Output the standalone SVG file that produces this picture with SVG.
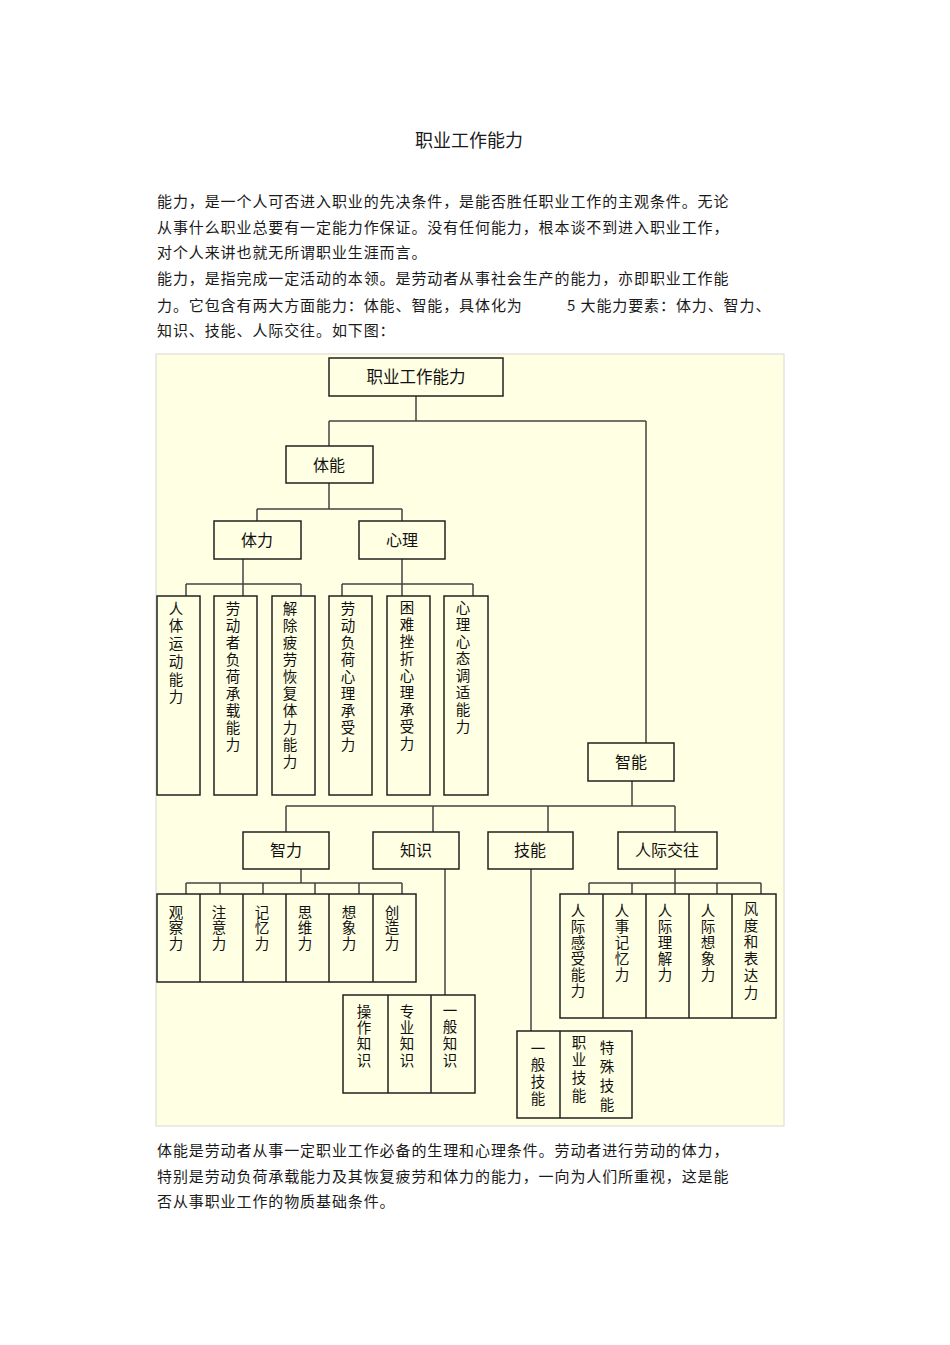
<svg xmlns="http://www.w3.org/2000/svg" width="950" height="1345" viewBox="0 0 950 1345">
<style>
.p{font-family:"Noto Sans CJK SC","Liberation Sans",sans-serif;font-size:15px;fill:#1a1a1a;letter-spacing:0.9px}
.t{font-family:"Noto Sans CJK SC",sans-serif;font-size:18px;fill:#1a1a1a;text-anchor:middle}
.b{fill:none;stroke:#222;stroke-width:1.5}
.l{font-family:"Noto Sans CJK SC",sans-serif;font-size:16px;fill:#111;text-anchor:middle}
.v{font-family:"Noto Sans CJK SC",sans-serif;font-size:14.5px;fill:#111;writing-mode:vertical-rl}
.c{fill:none;stroke:#444;stroke-width:1.5}
</style>
<rect width="950" height="1345" fill="#ffffff"/>
<text class="t" x="469" y="147">职业工作能力</text>
<g id="intro">
<text class="p" x="157" y="207">能力，是一个人可否进入职业的先决条件，是能否胜任职业工作的主观条件。无论</text>
<text class="p" x="157" y="233">从事什么职业总要有一定能力作保证。没有任何能力，根本谈不到进入职业工作，</text>
<text class="p" x="157" y="258">对个人来讲也就无所谓职业生涯而言。</text>
<text class="p" x="157" y="284">能力，是指完成一定活动的本领。是劳动者从事社会生产的能力，亦即职业工作能</text>
<text class="p" x="157" y="311">力。它包含有两大方面能力：体能、智能，具体化为</text>
<text class="p" x="567" y="311">5 大能力要素：体力、智力、</text>
<text class="p" x="157" y="336">知识、技能、人际交往。如下图：</text>
</g>
<rect x="156" y="354" width="628" height="772" fill="#ffffe3" stroke="#d8d8d0" stroke-width="1"/>
<g id="connectors">
<path class="c" d="M416,396V421M329,421H646M329,421V446M646,421V743"/>
<path class="c" d="M329,483V509M257,509H402M257,509V521M402,509V521"/>
<path class="c" d="M243,559V596M186,584H301M186,584V596M301,584V596"/>
<path class="c" d="M402,559V596M342,584H473M342,584V596M473,584V596"/>
<path class="c" d="M632,781V806M286,806H675M286,806V832M433,806V832M548,806V832M675,806V832"/>
<path class="c" d="M301,869V883M186,883H402M186,883V894M220,883V894M263,883V894M315,883V894M359,883V894M402,883V894"/>
<path class="c" d="M445,869V995"/>
<path class="c" d="M531,869V1031"/>
<path class="c" d="M675,869V883M589,883H761M589,883V894M632,883V894M675,883V894M717,883V894M761,883V894"/>
</g>
<g id="n-top"><rect class="b" x="329" y="358" width="174" height="38"/><text class="l" x="416" y="383" style="font-size:16.5px">职业工作能力</text></g>
<g id="n-tineng"><rect class="b" x="286" y="446" width="87" height="37"/><text class="l" x="329" y="470.5">体能</text></g>
<g id="n-tili"><rect class="b" x="214" y="521" width="87" height="38"/><text class="l" x="257" y="545.5">体力</text></g>
<g id="n-xinli"><rect class="b" x="359" y="521" width="86" height="38"/><text class="l" x="402" y="545.5">心理</text></g>
<g id="n-a1"><rect class="b" x="157" y="596" width="43" height="199"/><text class="v" x="176" y="601" style="letter-spacing:3.2px">人体运动能力</text></g>
<g id="n-a2"><rect class="b" x="214" y="596" width="43" height="199"/><text class="v" x="233" y="601" style="letter-spacing:2.5px">劳动者负荷承载能力</text></g>
<g id="n-a3"><rect class="b" x="272" y="596" width="43" height="199"/><text class="v" x="290" y="601" style="letter-spacing:2.5px">解除疲劳恢复体力能力</text></g>
<g id="n-a4"><rect class="b" x="329" y="596" width="43" height="199"/><text class="v" x="348" y="601" style="letter-spacing:2.5px">劳动负荷心理承受力</text></g>
<g id="n-a5"><rect class="b" x="387" y="596" width="43" height="199"/><text class="v" x="407" y="600" style="letter-spacing:2.5px">困难挫折心理承受力</text></g>
<g id="n-a6"><rect class="b" x="444" y="596" width="44" height="199"/><text class="v" x="463" y="600" style="letter-spacing:2.5px">心理心态调适能力</text></g>
<g id="n-zhineng"><rect class="b" x="588" y="743" width="86" height="38"/><text class="l" x="631" y="767.5">智能</text></g>
<g id="n-zhili"><rect class="b" x="243" y="832" width="86" height="37"/><text class="l" x="286" y="856">智力</text></g>
<g id="n-zhishi"><rect class="b" x="373" y="832" width="86" height="37"/><text class="l" x="416" y="856">知识</text></g>
<g id="n-jineng"><rect class="b" x="488" y="832" width="85" height="37"/><text class="l" x="530" y="856">技能</text></g>
<g id="n-renji"><rect class="b" x="618" y="832" width="99" height="37"/><text class="l" x="667" y="856">人际交往</text></g>
<g id="n-b">
<rect class="b" x="157" y="894" width="259" height="88"/>
<path class="b" d="M200,894V982M243,894V982M286,894V982M329,894V982M373,894V982"/>
<text class="v" x="176" y="905" style="letter-spacing:1px">观察力</text>
<text class="v" x="219" y="905" style="letter-spacing:1px">注意力</text>
<text class="v" x="262" y="905" style="letter-spacing:1px">记忆力</text>
<text class="v" x="305" y="905" style="letter-spacing:1px">思维力</text>
<text class="v" x="349" y="905" style="letter-spacing:1px">想象力</text>
<text class="v" x="392" y="905" style="letter-spacing:1px">创造力</text>
</g>
<g id="n-c">
<rect class="b" x="560" y="894" width="216" height="124"/>
<path class="b" d="M603,894V1018M646,894V1018M689,894V1018M732,894V1018"/>
<text class="v" x="578" y="903" style="letter-spacing:1.5px">人际感受能力</text>
<text class="v" x="622" y="903" style="letter-spacing:1.5px">人事记忆力</text>
<text class="v" x="665" y="903" style="letter-spacing:1.5px">人际理解力</text>
<text class="v" x="708" y="903" style="letter-spacing:1.5px">人际想象力</text>
<text class="v" x="751" y="901" style="letter-spacing:2.3px">风度和表达力</text>
</g>
<g id="n-d">
<rect class="b" x="343" y="995" width="132" height="98"/>
<path class="b" d="M388,995V1093M431,995V1093"/>
<text class="v" x="364" y="1004" style="letter-spacing:1.8px">操作知识</text>
<text class="v" x="407" y="1004" style="letter-spacing:1.8px">专业知识</text>
<text class="v" x="450" y="1003" style="letter-spacing:2.2px">一般知识</text>
</g>
<g id="n-e">
<rect class="b" x="517" y="1031" width="115" height="87"/>
<path class="b" d="M560,1031V1118"/>
<text class="v" x="538" y="1041" style="letter-spacing:2.2px">一般技能</text>
<text class="v" x="579" y="1035" style="letter-spacing:3.2px">职业技能</text>
<text class="v" x="607" y="1040" style="letter-spacing:4.5px">特殊技能</text>
</g>
<g id="outro">
<text class="p" x="157" y="1156">体能是劳动者从事一定职业工作必备的生理和心理条件。劳动者进行劳动的体力，</text>
<text class="p" x="157" y="1182">特别是劳动负荷承载能力及其恢复疲劳和体力的能力，一向为人们所重视，这是能</text>
<text class="p" x="157" y="1207">否从事职业工作的物质基础条件。</text>
</g>
</svg>
